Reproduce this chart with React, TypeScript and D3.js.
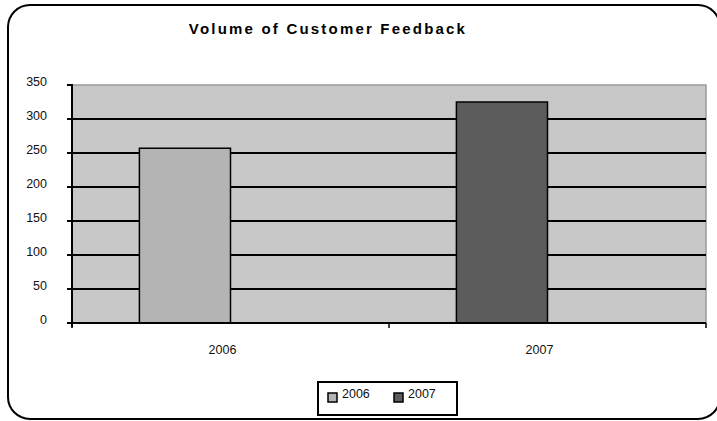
import React from "react";
import * as d3 from "d3";

const categories = ["2006", "2007"];
const values = [257, 325];
const seriesColors = ["#b4b4b4", "#5c5c5c"];
const yTicks = [0, 50, 100, 150, 200, 250, 300, 350];
const title = "Volume of Customer Feedback";

export default function App() {
  const W = 717, H = 421;
  const left = 72, right = 706, top = 85, bottom = 323;
  const y = d3.scaleLinear().domain([0, 350]).range([bottom, top]);
  const x = d3.scaleBand().domain(categories).range([left, right]).paddingInner(0).paddingOuter(0);
  const slot = d3.scaleBand().domain(["bar", "blank"]).range([0, x.bandwidth()]).paddingInner(0).paddingOuter(0.74);
  const font = "'Liberation Sans', Arial, sans-serif";
  const boundaries = [...categories.map((c) => x(c) as number), right];

  return (
    <svg width={W} height={H} style={{ position: "absolute", left: 0, top: 0 }} fontFamily={font}>
      <rect x={0} y={0} width={W} height={H} fill="#fff" />
      <rect x={8} y={5} width={712} height={414} rx={22} ry={22} fill="#fff" stroke="#000" strokeWidth={2} />
      <text x={328} y={34} textAnchor="middle" fontSize={15} fontWeight="bold" letterSpacing={2.2} fill="#000">{title}</text>
      <rect x={left} y={top} width={right - left} height={bottom - top} fill="#c8c8c8" stroke="#9a9a9a" strokeWidth={1.5} />
      {yTicks.filter((t) => t > 0 && t < 350).map((t) => (
        <line key={"g" + t} x1={left} x2={right} y1={y(t)} y2={y(t)} stroke="#000" strokeWidth={2} />
      ))}
      {categories.map((c, i) => (
        <rect key={"b" + c} x={(x(c) as number) + (slot("bar") as number)} y={y(values[i])} width={slot.bandwidth()} height={bottom - y(values[i])} fill={seriesColors[i]} stroke="#000" strokeWidth={1.5} />
      ))}
      <line x1={left} x2={left} y1={top - 1} y2={bottom + 4} stroke="#000" strokeWidth={2} />
      <line x1={left} x2={right} y1={bottom} y2={bottom} stroke="#000" strokeWidth={2} />
      {yTicks.map((t) => (
        <g key={"t" + t}>
          <line x1={left - 5} x2={left} y1={y(t)} y2={y(t)} stroke="#000" strokeWidth={2} />
          <text x={47} y={y(t) + 1} textAnchor="end" fontSize={12.5} fill="#111">{t}</text>
        </g>
      ))}
      {boundaries.map((b, i) => (
        <line key={"xt" + i} x1={b} x2={b} y1={bottom} y2={bottom + 5} stroke="#000" strokeWidth={1.5} />
      ))}
      {categories.map((c) => (
        <text key={"l" + c} x={(x(c) as number) + x.bandwidth() / 2 - 8} y={354} textAnchor="middle" fontSize={12.5} fill="#111">{c}</text>
      ))}
      <rect x={318} y={382} width={139} height={33} fill="#fff" stroke="#000" strokeWidth={2} />
      {categories.map((c, i) => (
        <g key={"lg" + c}>
          <rect x={328 + i * 66} y={393} width={9} height={9} fill={seriesColors[i]} stroke="#000" strokeWidth={1.5} />
          <text x={342 + i * 66} y={398} fontSize={12.5} fill="#111">{c}</text>
        </g>
      ))}
    </svg>
  );
}
